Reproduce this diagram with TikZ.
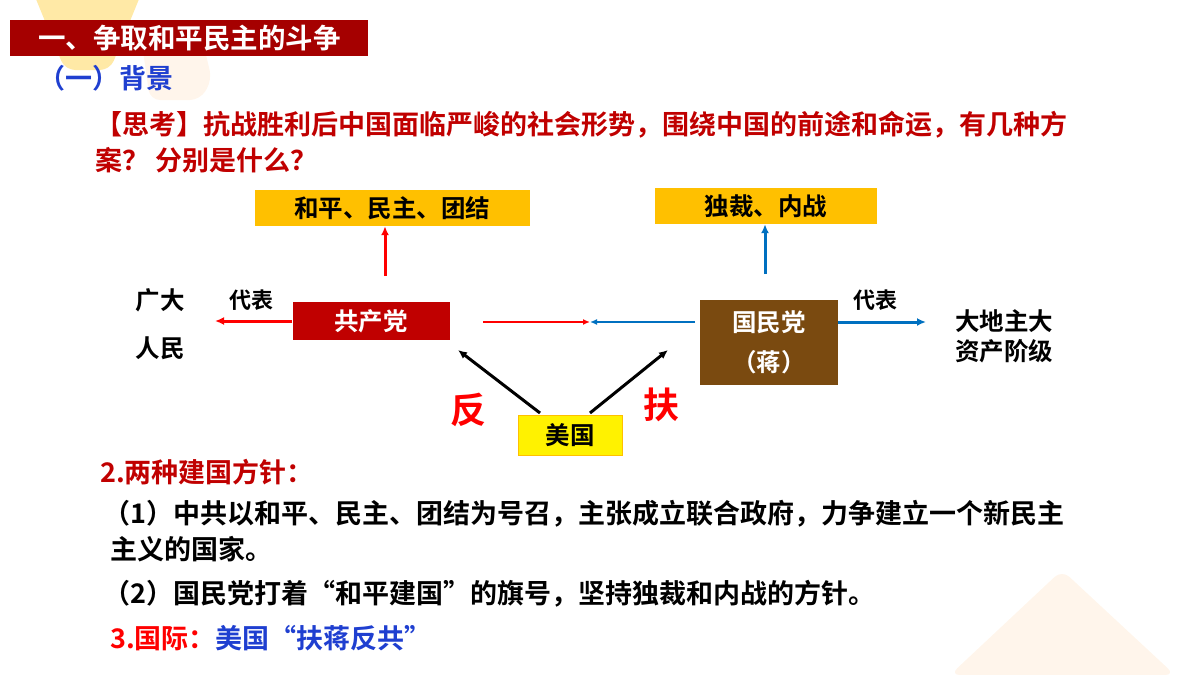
\documentclass[tikz,border=0pt]{standalone}
\usepackage{fontspec}
\usetikzlibrary{arrows.meta}
\setmainfont{Noto Sans CJK SC}[BoldFont={* Bold}]
\begin{document}
\begin{tikzpicture}[x=1pt,y=-1pt,
  txt/.style={font=\bfseries\fontsize{27}{30}\selectfont, anchor=west, inner sep=0pt},
  box/.style={font=\bfseries\fontsize{24.5}{30}\selectfont, inner sep=0pt},
  arr/.style={-{Latex[length=9pt,width=8pt]}, line width=3pt},
  thin/.style={-{Latex[length=7pt,width=6pt]}, line width=1.5pt}]
\definecolor{dred}{HTML}{C00000}
\definecolor{tred}{HTML}{A50000}
\definecolor{gold}{HTML}{FFC000}
\definecolor{brown}{HTML}{7A4A10}
\definecolor{blu}{HTML}{0070C0}
\definecolor{tblue}{HTML}{1F3FD0}
\useasboundingbox (0,0) rectangle (1200,675);
% decorations
\fill[gold!35, rounded corners=10pt] (20,-40) -- (155,-40) -- (110,70) -- (65,70) -- cycle;
\fill[orange!8, rounded corners=10pt] (140,30) -- (200,30) -- (212,80) -- (200,100) -- (150,100) -- cycle;
\fill[orange!8, rounded corners=10pt] (950,675) -- (1062,570) -- (1175,675) -- cycle;
% title
\node[fill=tred, minimum width=358pt, minimum height=36pt, anchor=north west, inner sep=0pt] (title) at (10,20) {};
\node[txt, text=white, font=\bfseries\fontsize{27.5}{30}\selectfont] (tt) at (38,38) {一、争取和平民主的斗争};
\node[txt, text=tblue] (bg) at (38,78) {（一）背景};
\node[txt, text=dred] (q1) at (95,125) {【思考】抗战胜利后中国面临严峻的社会形势，围绕中国的前途和命运，有几种方};
\node[txt, text=dred] (q2) at (95,160) {案？ 分别是什么？};
% boxes
\node[box, fill=gold, minimum width=275pt, minimum height=36pt] (hp) at (392,208) {和平、民主、团结};
\node[box, fill=gold, minimum width=222pt, minimum height=36pt] (dc) at (766,206) {独裁、内战};
\node[box, fill=dred, text=white, minimum width=157pt, minimum height=38pt] (gc) at (371,321) {共产党};
\node[box, fill=brown, text=white, minimum width=138pt, minimum height=85pt, align=center] (gm) at (769,342) {国民党\\[10pt]（蒋）};
\node[box, fill=yellow, draw=gold, minimum width=104pt, minimum height=40pt] (mg) at (570,435) {美国};
\node[box, anchor=center] (gd1) at (160,300) {广大};
\node[box, anchor=center] (gd2) at (160,348) {人民};
\node[font=\bfseries\fontsize{22}{24}\selectfont] (db1) at (251,300) {代表};
\node[font=\bfseries\fontsize{22}{24}\selectfont] (db2) at (875,300) {代表};
\node[box, align=left, anchor=west] (dz) at (955,336) {大地主大\\资产阶级};
\node[font=\bfseries\fontsize{36}{38}\selectfont, text=red] (fan) at (468,410) {反};
\node[font=\bfseries\fontsize{36}{38}\selectfont, text=red] (fu) at (661,405) {扶};
\coordinate (lft) at (215,321);
\coordinate (rgt) at (926,322);
\coordinate (mid) at (590,322);
\coordinate (gcr) at (483,322);
\coordinate (gml) at (695,322);
\coordinate (upL) at (385,276);
\coordinate (upR) at (765,274);
% arrows
\draw[arr, red] (gc.west) -- (lft);
\draw[arr, blu] (gm.east |- rgt) -- (rgt);
\draw[arr, red] (upL) -- (hp.south -| upL);
\draw[arr, blu] (upR) -- (dc.south -| upR);
\draw[thin, red] (gcr) -- (mid);
\draw[thin, blu] (gml) -- (mid);
\draw[arr, black] (540,413) -- (458,350);
\draw[arr, black] (590,413) -- (668,350);
% bottom text
\node[txt, text=dred] (p2) at (100,472) {2.两种建国方针：};
\node[txt] (p21) at (103,514) {（1）中共以和平、民主、团结为号召，主张成立联合政府，力争建立一个新民主};
\node[txt] (p22) at (110,549) {主义的国家。};
\node[txt] (p23) at (103,594) {（2）国民党打着“和平建国”的旗号，坚持独裁和内战的方针。};
\node[txt, text=red] (p3) at (110,638) {3.国际：\textcolor{tblue}{美国“扶蒋反共”}};
\end{tikzpicture}
\end{document}
